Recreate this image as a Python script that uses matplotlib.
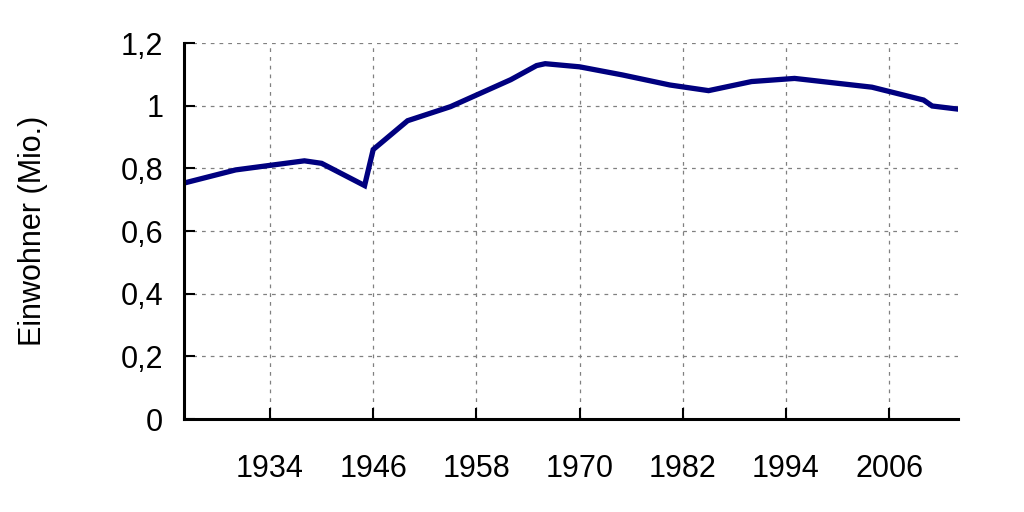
"""Population line chart (Einwohner in Mio.)."""

import matplotlib

matplotlib.use("Agg")
import matplotlib.pyplot as plt
from matplotlib.ticker import FuncFormatter

years = [1924, 1930, 1938, 1940, 1945, 1946, 1950, 1955, 1962, 1965, 1966,
         1970, 1975, 1980.5, 1985, 1990, 1995, 2004, 2010, 2011, 2014]
population = [0.753, 0.795, 0.824, 0.816, 0.745, 0.860, 0.952, 0.997, 1.083,
              1.128, 1.134, 1.124, 1.098, 1.066, 1.048, 1.077, 1.087, 1.059,
              1.018, 0.999, 0.989]

x_ticks = [1934, 1946, 1958, 1970, 1982, 1994, 2006]
y_ticks = [0, 0.2, 0.4, 0.6, 0.8, 1.0, 1.2]

plt.rcParams["font.family"] = ["Liberation Sans", "DejaVu Sans"]
plt.rcParams["font.size"] = 22

fig = plt.figure(figsize=(10.24, 5.12), dpi=100)
ax = fig.add_axes([0.1797, 0.1816, 0.7558, 0.7344])

ax.plot(years, population, color="#00007f", linewidth=3.8, solid_joinstyle="miter")

ax.set_xlim(1924, 2014)
ax.set_ylim(0, 1.2)
ax.set_xticks(x_ticks)
ax.set_yticks(y_ticks)
ax.yaxis.set_major_formatter(
    FuncFormatter(lambda v, _: f"{v:g}".replace(".", ","))
)

ax.grid(True, color="#808080", linestyle=(0, (3, 4)), linewidth=0.9)
ax.set_axisbelow(True)

for side in ("top", "right"):
    ax.spines[side].set_visible(False)
for side in ("left", "bottom"):
    ax.spines[side].set_linewidth(2.2)
    ax.spines[side].set_color("black")

ax.tick_params(axis="x", direction="in", length=8, width=1.5, pad=25)
ax.tick_params(axis="y", direction="in", length=8, width=1.5, pad=15)

ax.set_ylabel("Einwohner (Mio.)")
ax.yaxis.set_label_coords(-0.1757, 0.5)

fig.savefig("out.png", dpi=100)
plt.close(fig)
